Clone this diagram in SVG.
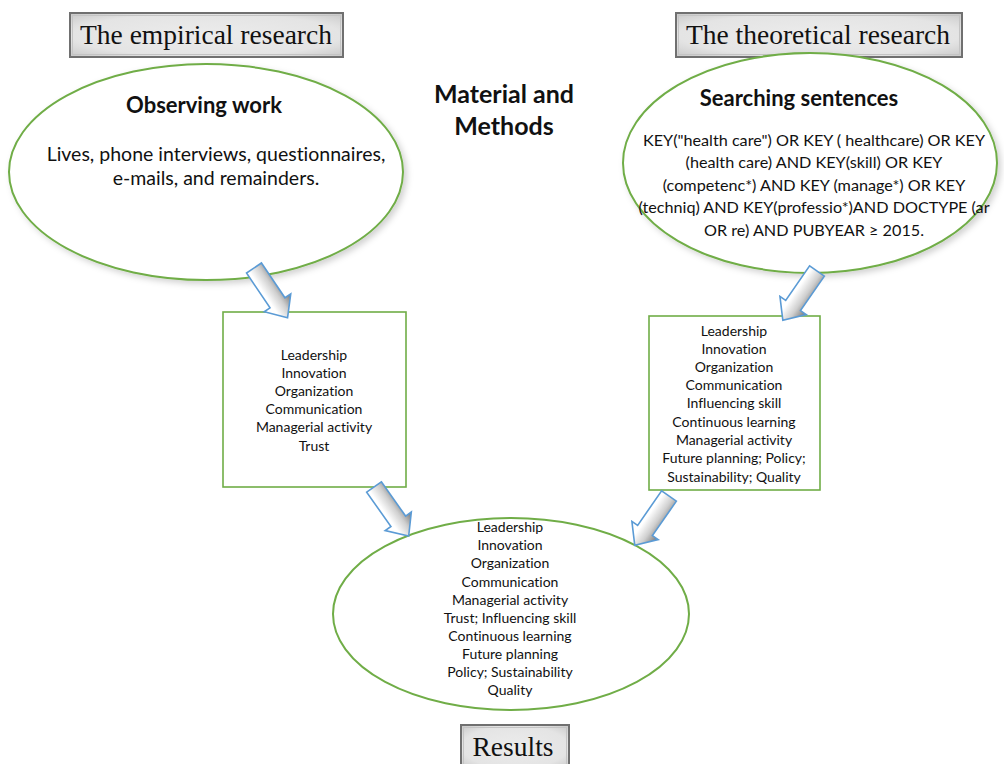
<svg xmlns="http://www.w3.org/2000/svg" width="1004" height="764" viewBox="0 0 1004 764">
<style>
.title{font-family:"Liberation Serif",serif;font-size:27.5px;fill:#111;text-anchor:middle}
.c{font-family:Lato,"Open Sans",sans-serif;fill:#111;text-anchor:middle;font-variant-ligatures:none;font-feature-settings:"liga" 0}
.hd{font-size:22px;font-weight:bold}
.mm{font-size:25px;font-weight:bold}
.big{font-size:19.5px}
.mid{font-size:16.2px}
.sm{font-size:14px}
.ell{fill:#fff;stroke:#70ad47;stroke-width:2}
.box{fill:#fff;stroke:#70ad47;stroke-width:1.6}
.tbox{fill:url(#tg);stroke:#707070;stroke-width:2}
.tin{fill:none;stroke:#c4c4c4;stroke-width:1}
.arr{fill:url(#ag);stroke:#5b9bd5;stroke-width:1.6;stroke-linejoin:miter}
</style>
<defs>
<radialGradient id="tg" cx="50%" cy="50%" r="70%">
<stop offset="0" stop-color="#ececec"/>
<stop offset="0.7" stop-color="#e4e4e4"/>
<stop offset="1" stop-color="#c8c8c8"/>
</radialGradient>
<linearGradient id="ag" gradientUnits="userSpaceOnUse" x1="0" y1="-15" x2="0" y2="15">
<stop offset="0" stop-color="#7a7a7a"/>
<stop offset="0.35" stop-color="#cfcfcf"/>
<stop offset="0.7" stop-color="#ffffff"/>
<stop offset="1" stop-color="#ffffff"/>
</linearGradient>
<filter id="sh" x="-10%" y="-10%" width="125%" height="125%">
<feDropShadow dx="3" dy="3" stdDeviation="3" flood-color="#000" flood-opacity="0.18"/>
</filter>
</defs>

<g id="title-empirical">
<rect class="tbox" x="70" y="13" width="273" height="44"/>
<rect class="tin" x="72.5" y="15.5" width="268" height="39"/>
<text class="title" x="206" y="44">The empirical research</text>
</g>

<g id="title-theoretical">
<rect class="tbox" x="676" y="13" width="286" height="44"/>
<rect class="tin" x="678.5" y="15.5" width="281" height="39"/>
<text class="title" x="818" y="44">The theoretical research</text>
</g>

<g id="material-methods">
<text class="c mm" x="504" y="103">Material and</text>
<text class="c mm" x="504" y="135">Methods</text>
</g>

<g id="observing-work">
<ellipse class="ell" cx="206" cy="172" rx="197" ry="108" filter="url(#sh)"/>
<text class="c hd" x="204" y="113">Observing work</text>
<text class="c big" x="216" y="161">Lives, phone interviews, questionnaires,</text>
<text class="c big" x="216" y="185">e-mails, and remainders.</text>
</g>

<g id="searching-sentences">
<ellipse class="ell" cx="810" cy="163" rx="187" ry="110" filter="url(#sh)"/>
<text class="c hd" x="799" y="106">Searching sentences</text>
<text class="c mid" x="814" y="146">KEY("health care") OR KEY ( healthcare) OR KEY</text>
<text class="c mid" x="814" y="168">(health care) AND KEY(skill) OR KEY</text>
<text class="c mid" x="814" y="191">(competenc*) AND KEY (manage*) OR KEY</text>
<text class="c mid" x="814" y="213">(techniq) AND KEY(professio*)AND DOCTYPE (ar</text>
<text class="c mid" x="814" y="236">OR re) AND PUBYEAR ≥ 2015.</text>
</g>

<g id="empirical-list">
<rect class="box" x="223" y="312" width="183" height="175"/>
<text class="c sm" x="314" y="360">Leadership</text>
<text class="c sm" x="314" y="378">Innovation</text>
<text class="c sm" x="314" y="396">Organization</text>
<text class="c sm" x="314" y="414">Communication</text>
<text class="c sm" x="314" y="432">Managerial activity</text>
<text class="c sm" x="314" y="451">Trust</text>
</g>

<g id="theoretical-list">
<rect class="box" x="649" y="316" width="171" height="174"/>
<text class="c sm" x="734" y="336">Leadership</text>
<text class="c sm" x="734" y="354">Innovation</text>
<text class="c sm" x="734" y="372">Organization</text>
<text class="c sm" x="734" y="390">Communication</text>
<text class="c sm" x="734" y="408">Influencing skill</text>
<text class="c sm" x="734" y="427">Continuous learning</text>
<text class="c sm" x="734" y="445">Managerial activity</text>
<text class="c sm" x="734" y="463">Future planning; Policy;</text>
<text class="c sm" x="734" y="482">Sustainability; Quality</text>
</g>

<g id="results-list">
<ellipse class="ell" cx="511" cy="614" rx="178" ry="96"/>
<text class="c sm" x="510" y="532">Leadership</text>
<text class="c sm" x="510" y="550">Innovation</text>
<text class="c sm" x="510" y="568">Organization</text>
<text class="c sm" x="510" y="587">Communication</text>
<text class="c sm" x="510" y="605">Managerial activity</text>
<text class="c sm" x="510" y="623">Trust; Influencing skill</text>
<text class="c sm" x="510" y="641">Continuous learning</text>
<text class="c sm" x="510" y="659">Future planning</text>
<text class="c sm" x="510" y="677">Policy; Sustainability</text>
<text class="c sm" x="510" y="695">Quality</text>
</g>

<g id="title-results">
<rect class="tbox" x="461" y="725" width="108" height="44"/>
<rect class="tin" x="463.5" y="727.5" width="103" height="39"/>
<text class="title" x="513" y="756">Results</text>
</g>

<g id="connectors">
<path class="arr" transform="translate(254,268) rotate(56)" d="M0,-9 L42,-9 L42,-16 L60,0 L42,16 L42,9 L0,9 Z"/>
<path class="arr" transform="translate(817,271) rotate(124.7)" d="M0,-9 L42,-9 L42,-16 L60,0 L42,16 L42,9 L0,9 Z"/>
<path class="arr" transform="translate(374,487) rotate(54.7)" d="M0,-9 L42,-9 L42,-16 L60,0 L42,16 L42,9 L0,9 Z"/>
<path class="arr" transform="translate(669,496) rotate(124.8)" d="M0,-9 L42,-9 L42,-16 L60,0 L42,16 L42,9 L0,9 Z"/>
</g>
</svg>
